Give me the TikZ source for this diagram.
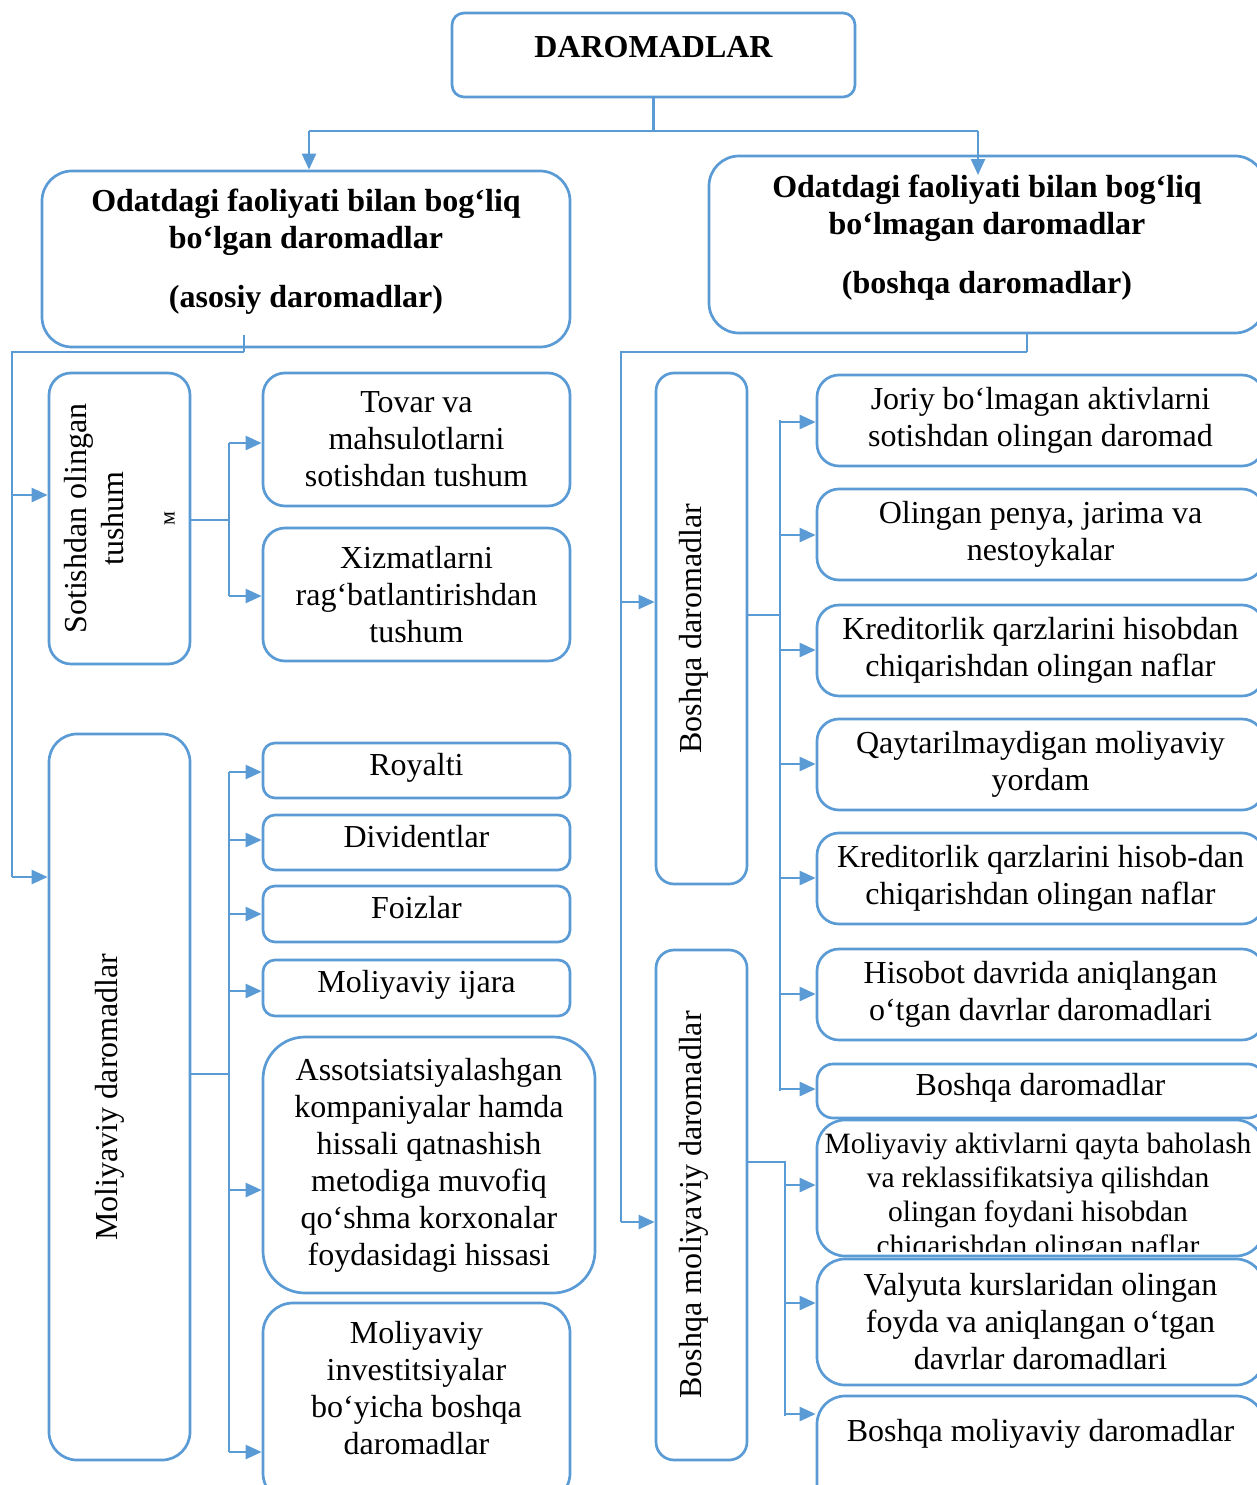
\documentclass[tikz,border=0pt]{standalone}
\usepackage{fontspec}
\setmainfont{Liberation Serif}
\usetikzlibrary{arrows.meta}
\definecolor{bl}{HTML}{5B9BD5}
\tikzset{
  box/.style={draw=bl, line width=2.7pt, rounded corners=18pt, align=center, inner sep=0pt,
              font=\fontsize{32}{37}\selectfont},
  sbox/.style={box, rounded corners=12pt, text depth=13pt},
  conn/.style={draw=bl, line width=2.5pt},
  arr/.style={conn, -{Triangle[length=16pt,width=14pt]}},
}
\begin{document}
\begin{tikzpicture}[x=1pt,y=-1pt]
\useasboundingbox (0,0) rectangle (1257,1485);
\clip (0,0) rectangle (1257,1485);

% top
\node[sbox, minimum width=403, minimum height=84, text depth=16pt, font=\fontsize{32}{37}\selectfont\bfseries] (top) at (653.5,55) {DAROMADLAR};
\node[box, rounded corners=30pt, minimum width=528, minimum height=176, text depth=21pt, font=\fontsize{32}{37}\selectfont\bfseries] (lt) at (306,259)
  {Odatdagi faoliyati bilan bog‘liq\\bo‘lgan daromadlar\\[22pt](asosiy daromadlar)};
\node[box, rounded corners=30pt, minimum width=556, minimum height=177, text depth=21pt, font=\fontsize{32}{37}\selectfont\bfseries] (rt) at (987,244.5)
  {Odatdagi faoliyati bilan bog‘liq\\bo‘lmagan daromadlar\\[22pt](boshqa daromadlar)};

\coordinate (h0) at (653.5,131);
\coordinate (hl) at (309,131);
\coordinate (hr) at (978,131);
\draw[conn] (top.south) -- (h0);
\draw[conn] (hl) -- (hr);
\draw[arr] (hl) -- (hl |- lt.north);
\draw[arr] (hr) -- (978,175);

% left column (rotated boxes: north = left side, south = right side)
\node[box, rounded corners=22pt, rotate=90, minimum width=291, minimum height=141] (sot) at (119.5,518.5)
  {Sotishdan olingan\\tushum\\[14pt]{\fontsize{22}{22}\selectfont м}};
\node[box, rounded corners=28pt, rotate=90, minimum width=726, minimum height=141, text depth=27pt] (mol) at (119.5,1097)
  {Moliyaviy daromadlar};

\coordinate (l1) at (244,335);
\coordinate (l2) at (244,352);
\coordinate (l3) at (12,352);
\coordinate (l4) at (12,877);
\draw[conn] (l1) -- (l2);
\draw[conn] (l2) -- (l3) -- (l4);
\draw[arr] (12,495) -- (12,495 -| sot.north);
\draw[arr] (l4) -- (l4 -| mol.north);

\node[box, rounded corners=22pt, minimum width=307, minimum height=133] (tov) at (416.5,439.5)
  {Tovar va\\mahsulotlarni\\sotishdan tushum};
\node[box, rounded corners=22pt, minimum width=307, minimum height=133] (xiz) at (416.5,594.5)
  {Xizmatlarni\\rag‘batlantirishdan\\tushum};

\coordinate (s1) at (229,520);
\coordinate (s2) at (229,443);
\coordinate (s3) at (229,596);
\draw[conn] (sot.south |- s1) -- (s1);
\draw[conn] (s2) -- (s3);
\draw[arr] (s2) -- (s2 -| tov.west);
\draw[arr] (s3) -- (s3 -| xiz.west);

\node[sbox, minimum width=307, minimum height=55] (roy) at (416.5,770.5) {Royalti};
\node[sbox, minimum width=307, minimum height=55] (div) at (416.5,842.5) {Dividentlar};
\node[sbox, minimum width=307, minimum height=56] (foi) at (416.5,914) {Foizlar};
\node[sbox, minimum width=307, minimum height=56] (ija) at (416.5,988) {Moliyaviy ijara};
\node[box, rounded corners=42pt, minimum width=332, minimum height=256] (ass) at (429,1165)
  {Assotsiatsiyalashgan\\kompaniyalar hamda\\hissali qatnashish\\metodiga muvofiq\\qo‘shma korxonalar\\foydasidagi hissasi};
\node[box, rounded corners=30pt, minimum width=307, minimum height=200, text depth=31pt] (inv) at (416.5,1403)
  {Moliyaviy\\investitsiyalar\\bo‘yicha boshqa\\daromadlar};

\coordinate (m1) at (229,1074);
\coordinate (m2) at (229,772);
\coordinate (m3) at (229,1452);
\draw[conn] (mol.south |- m1) -- (m1);
\draw[conn] (m2) -- (m3);
\draw[arr] (m2) -- (m2 -| roy.west);
\draw[arr] (229,840) -- (229,840 -| div.west);
\draw[arr] (229,914) -- (229,914 -| foi.west);
\draw[arr] (229,991) -- (229,991 -| ija.west);
\draw[arr] (229,1190) -- (229,1190 -| ass.west);
\draw[arr] (m3) -- (m3 -| inv.west);

% right column
\node[box, rounded corners=18pt, rotate=90, minimum width=511, minimum height=91, text depth=23pt] (bd) at (701.5,628.5)
  {Boshqa daromadlar};
\node[box, rounded corners=18pt, rotate=90, minimum width=510, minimum height=91, text depth=23pt] (bmd) at (701.5,1205)
  {Boshqa moliyaviy daromadlar};

\coordinate (r1) at (1027,333);
\coordinate (r2) at (1027,352);
\coordinate (r3) at (621,352);
\coordinate (r4) at (621,1222);
\draw[conn] (r1) -- (r2);
\draw[conn] (r2) -- (r3) -- (r4);
\draw[arr] (621,602) -- (621,602 -| bd.north);
\draw[arr] (r4) -- (r4 -| bmd.north);

\node[box, rounded corners=22pt, minimum width=447, minimum height=91] (jor) at (1040.5,420.5)
  {Joriy bo‘lmagan aktivlarni\\sotishdan olingan daromad};
\node[box, rounded corners=22pt, minimum width=447, minimum height=91] (pen) at (1040.5,534.5)
  {Olingan penya, jarima va\\nestoykalar};
\node[box, rounded corners=22pt, minimum width=447, minimum height=91] (kr1) at (1040.5,650.5)
  {Kreditorlik qarzlarini hisobdan\\chiqarishdan olingan naflar};
\node[box, rounded corners=22pt, minimum width=447, minimum height=91] (qay) at (1040.5,764.5)
  {Qaytarilmaydigan moliyaviy\\yordam};
\node[box, rounded corners=22pt, minimum width=447, minimum height=91] (kr2) at (1040.5,878.5)
  {Kreditorlik qarzlarini hisob-dan\\chiqarishdan olingan naflar};
\node[box, rounded corners=22pt, minimum width=447, minimum height=91] (his) at (1040.5,994.5)
  {Hisobot davrida aniqlangan\\o‘tgan davrlar daromadlari};
\node[sbox, rounded corners=16pt, minimum width=447, minimum height=54] (bsh) at (1040.5,1091)
  {Boshqa daromadlar};
\node[box, rounded corners=28pt, minimum width=447, minimum height=136] (akt) at (1040.5,1188) {};
\begin{scope}
  \clip (818,1122) rectangle (1262,1251);
  \node[align=center, inner sep=0pt, anchor=north, font=\fontsize{29.5}{34}\selectfont] (akttxt) at (1038,1133)
    {Moliyaviy aktivlarni qayta baholash\\va reklassifikatsiya qilishdan\\olingan foydani hisobdan\\chiqarishdan olingan naflar};
\end{scope}
\node[box, rounded corners=28pt, minimum width=447, minimum height=126] (val) at (1040.5,1322)
  {Valyuta kurslaridan olingan\\foyda va aniqlangan o‘tgan\\davrlar daromadlari};
\node[box, rounded corners=28pt, minimum width=447, minimum height=120, text depth=51pt] (bmo) at (1040.5,1456)
  {Boshqa moliyaviy daromadlar};

\coordinate (b1) at (780,615);
\coordinate (b2) at (780,420);
\coordinate (b3) at (780,1091);
\draw[conn] (bd.south |- b1) -- (b1);
\draw[conn] (b2) -- (b3);
\draw[arr] (780,422) -- (780,422 -| jor.west);
\draw[arr] (780,535) -- (780,535 -| pen.west);
\draw[arr] (780,650) -- (780,650 -| kr1.west);
\draw[arr] (780,764) -- (780,764 -| qay.west);
\draw[arr] (780,878) -- (780,878 -| kr2.west);
\draw[arr] (780,994) -- (780,994 -| his.west);
\draw[arr] (780,1089) -- (780,1089 -| bsh.west);

\coordinate (c1) at (785,1162);
\coordinate (c2) at (785,1416);
\draw[conn] (bmd.south |- c1) -- (c1) -- (c2);
\draw[arr] (785,1185) -- (785,1185 -| akt.west);
\draw[arr] (785,1303) -- (785,1303 -| val.west);
\draw[arr] (785,1414) -- (785,1414 -| bmo.west);
\end{tikzpicture}
\end{document}
